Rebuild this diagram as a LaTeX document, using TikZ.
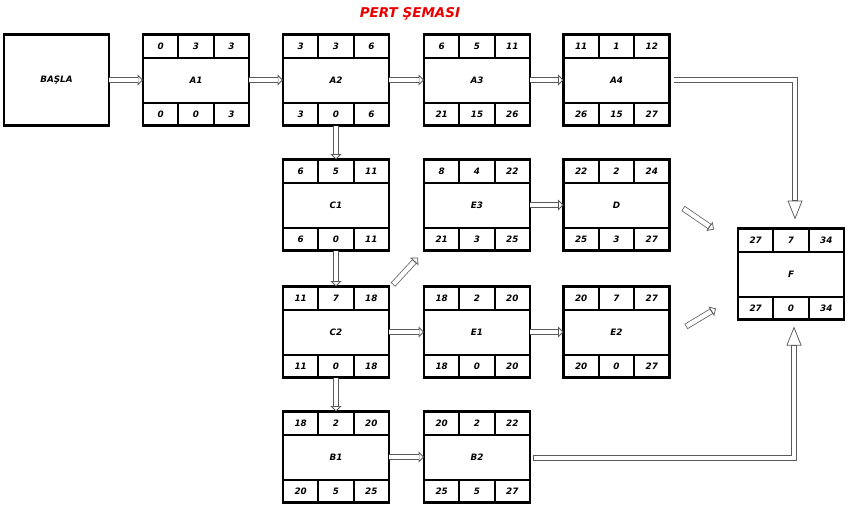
\documentclass[tikz,border=0pt]{standalone}
\usepackage{fontspec}
\setmainfont{DejaVu Sans}
\usetikzlibrary{calc,arrows.meta}
\definecolor{arr}{RGB}{90,90,90}
\definecolor{ttl}{RGB}{235,0,0}
\tikzset{
  x=1pt, y=1pt,
  pbox/.style={draw=black, line width=2.2pt, minimum width=106pt, minimum height=91pt,
    inner sep=0pt, outer sep=0pt, font=\fontsize{8.8}{10}\selectfont\bfseries\itshape},
  pline/.style={draw=black, line width=2pt},
  num/.style={inner sep=0pt, text height=6.4pt, text depth=0pt, font=\fontsize{8.8}{10}\selectfont\bfseries\itshape},
  ttlstyle/.style={inner sep=0pt, text=ttl, font=\fontsize{13.5}{16}\selectfont\bfseries\itshape},
  bheadS/.style={draw=arr, line width=0.75pt, -{Triangle[open, fill=white, length=5.5pt, width=11pt]}},
  bheadSr/.style={bheadS, line cap=rect},
  bheadL/.style={draw=arr, line width=0.75pt, -{Triangle[open, fill=white, length=19pt, width=15pt]}},
  bheadLr/.style={bheadL, line cap=rect},
  bshaft/.style={draw=arr, line width=0.75pt, double=white, double distance=4.4pt},
  bshaftS/.style={bshaft, shorten >=5.1pt},
  bshaftSr/.style={bshaft, line cap=rect, shorten >=8.1pt},
  bshaftL/.style={bshaft, shorten >=18.6pt},
  bshaftLr/.style={bshaft, line cap=rect, shorten >=21.6pt},
}
\newcommand\blk[2]{\draw[bhead#1] #2; \draw[bshaft#1] #2;}
\newcommand\pertnode[9]{%
  \node[pbox] (#1) at (#2) {#3};
  \draw[pline] ($(#1.north west)+(0,-23)$) -- ($(#1.north east)+(0,-23)$)
               ($(#1.south west)+(0,23)$) -- ($(#1.south east)+(0,23)$)
               ($(#1.north west)+(35.33,0)$) -- ($(#1.north west)+(35.33,-23)$)
               ($(#1.north west)+(70.67,0)$) -- ($(#1.north west)+(70.67,-23)$)
               ($(#1.south west)+(35.33,0)$) -- ($(#1.south west)+(35.33,23)$)
               ($(#1.south west)+(70.67,0)$) -- ($(#1.south west)+(70.67,23)$);
  \node[num] (#1-1) at ($(#1.north west)+(17.67,-11.5)$) {#4};
  \node[num] (#1-2) at ($(#1.north west)+(53,-11.5)$) {#5};
  \node[num] (#1-3) at ($(#1.north west)+(88.33,-11.5)$) {#6};
  \node[num] (#1-4) at ($(#1.south west)+(17.67,11.5)$) {#7};
  \node[num] (#1-5) at ($(#1.south west)+(53,11.5)$) {#8};
  \node[num] (#1-6) at ($(#1.south west)+(88.33,11.5)$) {#9};
}
\begin{document}
\begin{tikzpicture}
\useasboundingbox (0,0) rectangle (851,-509);
\node[ttlstyle] (title) at (410,-14) {PERT ŞEMASI};
\node[pbox, minimum width=105pt] (BASLA) at (56.5,-80) {BAŞLA};
\pertnode{A1}{196,-80}{A1}{0}{3}{3}{0}{0}{3}
\pertnode{A2}{336,-80}{A2}{3}{3}{6}{3}{0}{6}
\pertnode{A3}{477,-80}{A3}{6}{5}{11}{21}{15}{26}
\pertnode{A4}{616.5,-80}{A4}{11}{1}{12}{26}{15}{27}
\pertnode{C1}{336,-205}{C1}{6}{5}{11}{6}{0}{11}
\pertnode{E3}{477,-205}{E3}{8}{4}{22}{21}{3}{25}
\pertnode{D}{616.5,-205}{D}{22}{2}{24}{25}{3}{27}
\pertnode{C2}{336,-332}{C2}{11}{7}{18}{11}{0}{18}
\pertnode{E1}{477,-332}{E1}{18}{2}{20}{18}{0}{20}
\pertnode{E2}{616.5,-332}{E2}{20}{7}{27}{20}{0}{27}
\pertnode{B1}{336,-457}{B1}{18}{2}{20}{20}{5}{25}
\pertnode{B2}{477,-457}{B2}{20}{2}{22}{25}{5}{27}
\pertnode{F}{791,-274}{F}{27}{7}{34}{27}{0}{34}
% free ends
\coordinate (c2out) at ($(C2.north east)+(6,4)$);
\coordinate (e3in) at ($(E3.south west)+(-6,-7)$);
\coordinate (dout) at ($(D.east)+(16,-5)$);
\coordinate (fin1) at ($(F.north west)+(-24,-1)$);
\coordinate (e2out) at ($(E2.east)+(19,7)$);
\coordinate (fin2) at ($(F.south west)+(-22,11)$);
\coordinate (a4out) at ($(A4.east)+(7,0)$);
\coordinate (ftop) at ($(F.north)+(4,9)$);
\coordinate (b2out) at ($(B2.east)+(6,-1)$);
\coordinate (fbot) at ($(F.south)+(3,-7)$);
% arrows
\blk{S}{(BASLA.east) -- (A1.west)}
\blk{S}{(A1.east) -- (A2.west)}
\blk{S}{(A2.east) -- (A3.west)}
\blk{S}{(A3.east) -- (A4.west)}
\blk{S}{(A2.south) -- (C1.north)}
\blk{S}{(C1.south) -- (C2.north)}
\blk{S}{(C2.south) -- (B1.north)}
\blk{S}{(E3.east) -- (D.west)}
\blk{S}{(C2.east) -- (E1.west)}
\blk{S}{(E1.east) -- (E2.west)}
\blk{S}{(B1.east) -- (B2.west)}
\blk{Sr}{(c2out) -- (e3in)}
\blk{Sr}{(dout) -- (fin1)}
\blk{Sr}{(e2out) -- (fin2)}
\blk{Lr}{(a4out) -| (ftop)}
\blk{Lr}{(b2out) -| (fbot)}
\end{tikzpicture}
\end{document}
